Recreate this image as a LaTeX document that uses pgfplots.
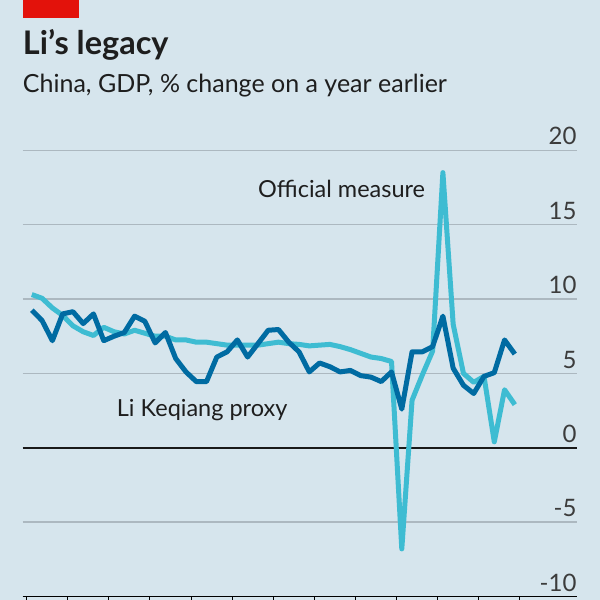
\documentclass[border=0pt]{standalone}
\usepackage{pgfplots}
\pgfplotsset{compat=1.18}
\usepackage{pgfplotstable}
\usepackage{fontspec}
\setmainfont{Lato}
\definecolor{bg}{RGB}{214,229,237}
\definecolor{ecored}{RGB}{227,18,11}
\definecolor{ecoblue}{RGB}{0,107,162}
\definecolor{ecocyan}{RGB}{62,188,210}
\definecolor{gridgrey}{RGB}{172,184,192}
\definecolor{txt}{RGB}{30,30,30}
\definecolor{ticktxt}{RGB}{60,60,60}

\pgfplotstableread{
x y
2011.125 10.3
2011.375 10.05
2011.625 9.4
2011.875 8.9
2012.125 8.2
2012.375 7.8
2012.625 7.55
2012.875 8.1
2013.125 7.8
2013.375 7.65
2013.625 7.9
2013.875 7.7
2014.125 7.5
2014.375 7.5
2014.625 7.25
2014.875 7.25
2015.125 7.1
2015.375 7.1
2015.625 7.0
2015.875 6.9
2016.125 6.9
2016.375 6.9
2016.625 6.9
2016.875 7.0
2017.125 7.1
2017.375 7.0
2017.625 6.95
2017.875 6.85
2018.125 6.9
2018.375 6.95
2018.625 6.8
2018.875 6.6
2019.125 6.35
2019.375 6.1
2019.625 6.0
2019.875 5.8
2020.125 -6.8
2020.375 3.2
2020.625 4.9
2020.875 6.5
2021.125 18.5
2021.375 8.3
2021.625 5.0
2021.875 4.4
2022.125 4.8
2022.375 0.4
2022.625 3.9
2022.875 2.9
}\official

\pgfplotstableread{
x y
2011.125 9.25
2011.375 8.55
2011.625 7.2
2011.875 9.0
2012.125 9.15
2012.375 8.35
2012.625 9.0
2012.875 7.2
2013.125 7.5
2013.375 7.75
2013.625 8.85
2013.875 8.5
2014.125 7.05
2014.375 7.75
2014.625 6.0
2014.875 5.1
2015.125 4.45
2015.375 4.45
2015.625 6.1
2015.875 6.45
2016.125 7.25
2016.375 6.1
2016.625 7.0
2016.875 7.9
2017.125 7.95
2017.375 7.1
2017.625 6.45
2017.875 5.1
2018.125 5.7
2018.375 5.45
2018.625 5.1
2018.875 5.2
2019.125 4.85
2019.375 4.75
2019.625 4.45
2019.875 5.1
2020.125 2.6
2020.375 6.45
2020.625 6.45
2020.875 6.8
2021.125 8.85
2021.375 5.35
2021.625 4.2
2021.875 3.65
2022.125 4.8
2022.375 5.05
2022.625 7.25
2022.875 6.3
}\likeqiang

\begin{document}
\begin{tikzpicture}[x=1pt,y=1pt]
\useasboundingbox (0,0) rectangle (600,600);
\fill[bg] (0,0) rectangle (600,600);
\fill[ecored] (22.7,582) rectangle (78.7,600);
\node[anchor=base west, inner sep=0pt, text=txt, font=\fontsize{32.5}{32.5}\selectfont\bfseries] at (22.7,545) {Li’s legacy};
\node[anchor=base west, inner sep=0pt, text=txt, font=\fontsize{25}{25}\selectfont] at (22.7,507.3) {China, GDP, \% change on a year earlier};
\begin{axis}[
  at={(22.7pt,3.5pt)}, anchor=south west,
  scale only axis, width=554pt, height=446.2pt,
  xmin=2010.903, xmax=2024.38, ymin=-10, ymax=20,
  axis x line*=bottom, axis y line*=right,
  x axis line style={black, line width=1.4pt},
  y axis line style={draw=none},
  xtick={2011,...,2023}, xticklabels={},
  tick align=outside, major tick length=8pt,
  xtick style={black, line width=1pt},
  ytick={-10,-5,5,10,15,20}, ytick style={draw=none},
  extra y ticks={0},
  extra y tick style={grid style={black!90, line width=1.6pt}},
  ymajorgrids, grid style={gridgrey, line width=1.3pt},
  yticklabel style={anchor=south east, inner sep=0pt, text=ticktxt,
    font=\fontsize{24}{24}\selectfont, xshift=-8pt, yshift=5pt},
  /pgf/number format/assume math mode=true,
]
\addplot[ecocyan, line width=5pt, line join=round] table[x=x,y=y] {\official};
\addplot[ecoblue, line width=5pt, line join=round] table[x=x,y=y] {\likeqiang};
\end{axis}
\node[anchor=base west, inner sep=0pt, text=txt, font=\fontsize{23.5}{23.5}\selectfont] at (258,402) {Official measure};
\node[anchor=base west, inner sep=0pt, text=txt, font=\fontsize{23.5}{23.5}\selectfont] at (116.7,183.3) {Li Keqiang proxy};
\end{tikzpicture}
\end{document}
